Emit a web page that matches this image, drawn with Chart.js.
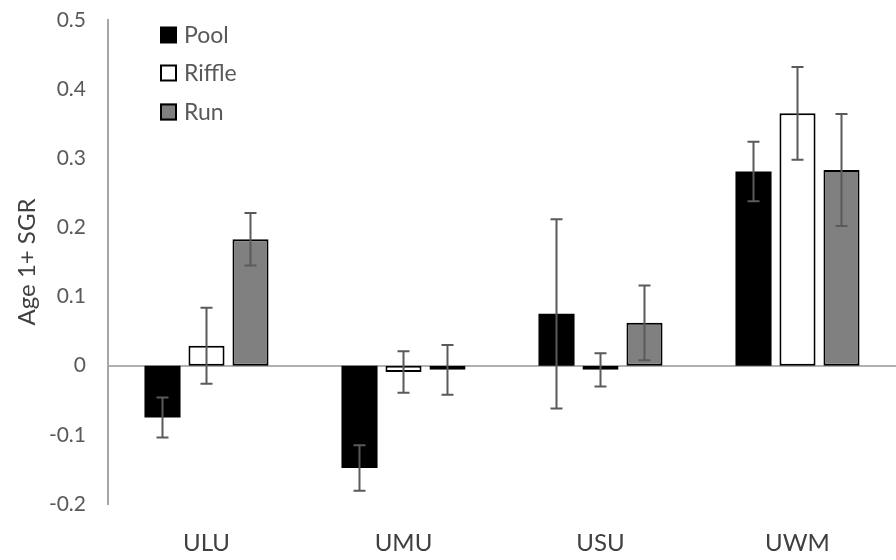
<!DOCTYPE html>
<html>
<head>
<meta charset="utf-8">
<script src="https://cdn.jsdelivr.net/npm/chart.js@4.4.1/dist/chart.umd.min.js"></script>
<style>
  html, body { margin: 0; padding: 0; background: #ffffff; }
  #wrap { width: 896px; height: 560px; }
</style>
</head>
<body>
<div id="wrap"><canvas id="c" width="896" height="560"></canvas></div>
<script>
const categories = ['ULU', 'UMU', 'USU', 'UWM'];
const seriesNames = ['Pool', 'Riffle', 'Run'];
const poolValues = [-0.075, -0.148, 0.075, 0.281];
const poolErrors = [0.029, 0.033, 0.137, 0.043];
const riffleValues = [0.029, -0.009, -0.006, 0.365];
const riffleErrors = [0.055, 0.030, 0.024, 0.067];
const runValues = [0.183, -0.006, 0.062, 0.283];
const runErrors = [0.038, 0.036, 0.054, 0.081];
const yTickLabels = ['-0.2', '-0.1', '0', '0.1', '0.2', '0.3', '0.4', '0.5'];

const FONT = 'Lato, "Open Sans", "DejaVu Sans", sans-serif';
const fills = ['#000000', '#ffffff', '#808080'];
const errorSets = [poolErrors, riffleErrors, runErrors];

const errorBarPlugin = {
  id: 'errorBars',
  afterDatasetsDraw(chart) {
    const ctx = chart.ctx;
    const yScale = chart.scales.y;
    ctx.save();
    ctx.strokeStyle = '#5a5a5a';
    ctx.lineWidth = 2;
    chart.data.datasets.forEach((ds, di) => {
      const meta = chart.getDatasetMeta(di);
      const errs = errorSets[di];
      meta.data.forEach((bar, i) => {
        const v = ds.data[i];
        const e = errs[i];
        const x = bar.x;
        const yTop = yScale.getPixelForValue(v + e);
        const yBot = yScale.getPixelForValue(v - e);
        const cap = 6;
        ctx.beginPath();
        ctx.moveTo(x, yTop); ctx.lineTo(x, yBot);
        ctx.moveTo(x - cap, yTop); ctx.lineTo(x + cap, yTop);
        ctx.moveTo(x - cap, yBot); ctx.lineTo(x + cap, yBot);
        ctx.stroke();
      });
    });
    ctx.restore();
  }
};

const legendPlugin = {
  id: 'insideLegend',
  afterDraw(chart) {
    const ctx = chart.ctx;
    ctx.save();
    const x0 = 160, size = 17, rows = [35, 73, 112];
    ctx.font = '23px ' + FONT;
    ctx.textBaseline = 'middle';
    ctx.textAlign = 'left';
    chart.data.datasets.forEach((ds, i) => {
      const cy = rows[i];
      ctx.fillStyle = fills[i];
      ctx.fillRect(x0, cy - size / 2, size, size);
      if (i > 0) {
        ctx.strokeStyle = '#000000';
        ctx.lineWidth = 2;
        ctx.strokeRect(x0 + 1, cy - size / 2 + 1, size - 2, size - 2);
      }
      ctx.fillStyle = '#595959';
      ctx.fillText(ds.label, x0 + 24, cy + 1);
    });
    ctx.restore();
  }
};

new Chart(document.getElementById('c'), {
  type: 'bar',
  data: {
    labels: categories,
    datasets: [
      { label: seriesNames[0], data: poolValues, backgroundColor: fills[0], borderColor: '#000000', borderWidth: 0, borderSkipped: false },
      { label: seriesNames[1], data: riffleValues, backgroundColor: fills[1], borderColor: '#000000', borderWidth: 2, borderSkipped: false },
      { label: seriesNames[2], data: runValues, backgroundColor: fills[2], borderColor: '#000000', borderWidth: 2, borderSkipped: false }
    ]
  },
  options: {
    responsive: false,
    animation: false,
    layout: { padding: { top: 20, right: 0, bottom: 0, left: 0 } },
    datasets: { bar: { categoryPercentage: 0.67, barPercentage: 0.82 } },
    plugins: {
      legend: { display: false },
      tooltip: { enabled: false }
    },
    scales: {
      x: {
        offset: true,
        grid: { display: false, drawTicks: false },
        border: { display: false },
        ticks: { color: '#404040', font: { family: FONT, size: 24 }, padding: 25 },
        afterFit(scale) { scale.height = 56; }
      },
      y: {
        min: -0.2,
        max: 0.5,
        z: 1,
        ticks: {
          stepSize: 0.1,
          color: '#595959',
          font: { family: FONT, size: 21 },
          padding: 22,
          callback(value) {
            const idx = Math.round((value + 0.2) * 10);
            return yTickLabels[idx] !== undefined ? yTickLabels[idx] : value;
          }
        },
        grid: {
          drawTicks: false,
          lineWidth: 2,
          color(ctx) { return ctx.tick && Math.abs(ctx.tick.value) < 1e-9 ? '#b0b0b0' : 'rgba(0,0,0,0)'; }
        },
        border: { display: true, color: '#a6a6a6', width: 2 },
        title: {
          display: true,
          text: 'Age 1+ SGR',
          color: '#404040',
          font: { family: FONT, size: 24 },
          padding: { top: 13, bottom: 0 }
        },
        afterFit(scale) {
          scale.width = 108;
          scale.paddingTop = 0;
          scale.paddingBottom = 0;
        }
      }
    }
  },
  plugins: [errorBarPlugin, legendPlugin]
});
</script>
</body>
</html>
